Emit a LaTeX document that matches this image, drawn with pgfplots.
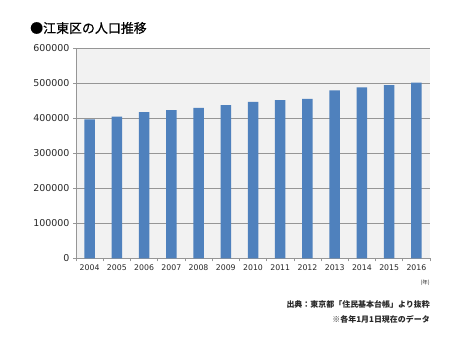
\documentclass[border=0pt]{standalone}
\usepackage{fontspec}
\setmainfont{DejaVu Sans}
\newfontfamily\cjk{Noto Sans CJK JP}
\newfontfamily\cjktitle{Noto Sans CJK JP}[FakeBold=0.6]
\usepackage{pgfplots}
\pgfplotsset{compat=1.18}
\definecolor{barblue}{RGB}{79,129,189}
\definecolor{bg}{RGB}{242,242,242}
\definecolor{gridc}{RGB}{150,150,150}
\definecolor{txt}{RGB}{40,40,40}
\begin{document}
\begin{tikzpicture}[x=1bp,y=1bp]
\useasboundingbox[fill=white] (0,0) rectangle (450,361);
\begin{axis}[
  at={(76bp,102.7bp)}, anchor=south west,
  width=354bp, height=210.3bp, scale only axis,
  xmin=-0.5, xmax=12.5, ymin=0, ymax=600000,
  ytick={0,100000,200000,300000,400000,500000,600000},
  yticklabels={0,100000,200000,300000,400000,500000,600000},
  xtick={0,...,12},
  xticklabels={2004,2005,2006,2007,2008,2009,2010,2011,2012,2013,2014,2015,2016},
  major x tick style={draw=none},
  minor xtick={-0.5,0.5,...,12.5},
  axis x line*=bottom, axis y line*=left,
  ymajorgrids,
  grid style={gridc, line width=0.7bp},
  axis line style={gridc, line width=0.7bp},
  tick style={gridc, line width=0.7bp},
  tick align=outside, major tick length=3bp, minor tick length=3bp,
  axis background/.style={fill=bg},
  scaled y ticks=false,
  yticklabel style={font=\fontsize{9.5}{10}\selectfont, text=txt},
  xticklabel style={font=\fontsize{7.8}{9}\selectfont, text=txt},
]
\addplot[ybar, bar width=10.5bp, fill=barblue, draw=none] coordinates {
(0,396600) (1,404000) (2,417000) (3,423000) (4,429000) (5,437000) (6,446000)
(7,451000) (8,455000) (9,479000) (10,488000) (11,494000) (12,501000)};
\end{axis}
\node[anchor=west, inner sep=0, text=black, font=\cjktitle\fontsize{13}{15}\selectfont] at (30,333) {●江東区の人口推移};
\node[anchor=east, inner sep=0, text=txt, font=\cjk\fontsize{5.5}{6}\selectfont] at (430,78) {(年)};
\node[anchor=east, inner sep=0, text=txt, font=\cjk\bfseries\fontsize{8}{10}\selectfont] at (430,57) {出典：東京都「住民基本台帳」より抜粋};
\node[anchor=east, inner sep=0, text=txt, font=\cjk\bfseries\fontsize{8}{10}\selectfont] at (430,42) {※各年1月1日現在のデータ};
\end{tikzpicture}
\end{document}
